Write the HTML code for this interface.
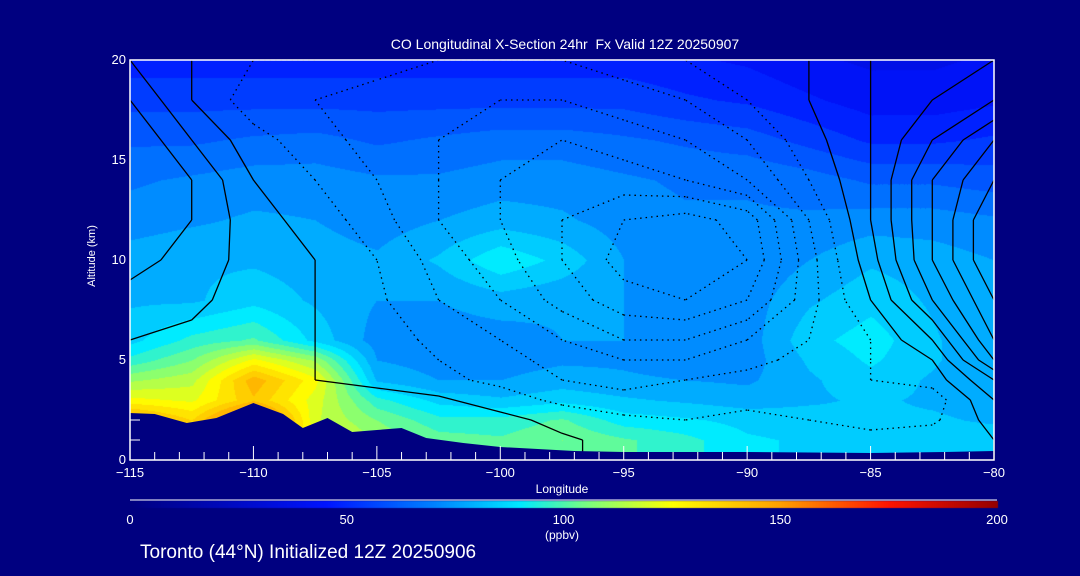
<!DOCTYPE html>
<html><head><meta charset="utf-8">
<style>
html,body{margin:0;padding:0;background:#000080;}
#root{position:relative;width:1080px;height:576px;background:#000080;overflow:hidden;font-family:"Liberation Sans",sans-serif;color:#fff;}
.t{position:absolute;white-space:nowrap;color:#fff;}
canvas,svg{position:absolute;left:0;top:0;}
</style></head>
<body>
<div id="root">
<canvas id="cv" width="1080" height="576"></canvas>
<svg id="sv" width="1080" height="576"></svg>
<div class="t" style="left:0;width:1130px;text-align:center;top:36px;font-size:14px;">CO Longitudinal X-Section 24hr &nbsp;Fx Valid 12Z 20250907</div>
<div class="t" style="left:42px;top:250px;width:100px;text-align:center;font-size:11px;transform:rotate(-90deg);">Altitude (km)</div>
<div class="t" style="left:512px;width:100px;text-align:center;top:482px;font-size:12px;">Longitude</div>
<div class="t" style="left:512px;width:100px;text-align:center;top:528px;font-size:12px;">(ppbv)</div>
<div class="t" style="left:140px;top:542px;font-size:19px;">Toronto (44°N) Initialized 12Z 20250906</div>
</div>
<script>
const lons=[-115,-112.5,-110,-107.5,-105,-102.5,-100,-97.5,-95,-92.5,-90,-87.5,-85,-82.5,-80];
const alts=[0,1,2,3,4,5,6,8,10,12,14,16,18,20];
const co=[
[140,130,150,125,110,100,98,104,100,95,88,86,85,85,85],
[140,130,150,125,110,102,100,105,100,95,88,86,85,85,85],
[150,135,170,118,105,95,95,100,90,88,85,84,82,82,80],
[125,122,140,120,95,85,82,85,82,80,78,80,82,80,78],
[110,115,145,125,80,75,75,78,76,75,74,80,85,80,76],
[95,105,125,110,75,72,72,74,74,72,72,82,88,82,75],
[85,95,100,85,72,72,72,75,75,72,72,85,90,82,75],
[80,80,85,80,75,75,78,76,75,72,72,80,85,80,75],
[78,80,80,78,76,82,92,85,75,70,70,75,80,78,75],
[72,74,76,75,72,75,78,76,72,70,70,70,72,72,70],
[68,70,72,72,70,70,72,72,70,68,68,66,62,62,60],
[62,62,64,65,62,64,66,66,64,62,60,55,50,50,52],
[55,55,55,55,55,55,55,55,55,52,50,46,42,42,44],
[48,48,48,48,48,48,48,48,48,46,44,40,38,38,40]];
const anom=[
[0,0,0,0,2,5,3,1,-2,-3,-3,-4,-4,-2,0],
[0,0,0,0,2,5,3,1,-2,-3,-3,-4,-4,-2,0],
[0,1,1,2,5,4,2,-2,-4,-5,-4,-5,-6,-6,2],
[1,2,1,2,3,1,-3,-6,-8,-8,-6,-6,-8,-8,5],
[2,2,2,0,-2,-4,-6,-10,-12,-10,-8,-6,-5,-3,10],
[3,3,2,0,-2,-5,-8,-12,-15,-15,-12,-8,-5,0,20],
[5,4,3,0,-3,-6,-10,-15,-20,-20,-15,-10,-5,5,25],
[8,6,3,0,-4,-10,-15,-22,-28,-30,-25,-12,0,15,30],
[12,8,3,0,-5,-12,-18,-25,-32,-35,-30,-12,3,20,35],
[15,10,2,-2,-8,-15,-20,-25,-30,-32,-28,-10,5,20,35],
[15,10,0,-5,-10,-15,-20,-22,-22,-20,-15,-5,5,20,30],
[15,5,-3,-8,-12,-15,-18,-20,-18,-15,-10,-2,5,15,25],
[10,0,-8,-10,-12,-12,-15,-15,-12,-10,-5,0,5,10,15],
[5,0,-5,-5,-8,-10,-10,-10,-8,-5,-3,0,5,5,10]];
const terrainLon=[-115,-114,-112.7,-111.5,-110,-108.8,-108,-107,-106,-105,-104,-103,-101.5,-100,-97,-95,-90,-85,-82,-80];
const terrainAlt=[2.35,2.3,1.85,2.1,2.85,2.3,1.6,2.1,1.4,1.5,1.6,1.1,0.85,0.65,0.45,0.4,0.4,0.35,0.4,0.45];
const xTicks=[-115,-110,-105,-100,-95,-90,-85,-80];
const yTicks=[0,5,10,15,20];
const cbTicks=[0,50,100,150,200];

const X0=130,X1=994,Y0=460,Y1=60;
const xs=v=>X0+(v+115)/35*(X1-X0);
const ys=v=>Y0-v/20*(Y0-Y1);
const stops=[[0,0,0,128],[45,0,20,255],[70,0,130,255],[90,0,235,255],[105,120,255,130],[125,255,255,0],[150,255,160,0],[175,255,20,0],[200,150,0,0]];
function cmap(v){v=Math.max(0,Math.min(200,v));for(let i=1;i<stops.length;i++){if(v<=stops[i][0]){const a=stops[i-1],b=stops[i],t=(v-a[0])/(b[0]-a[0]);return[a[1]+t*(b[1]-a[1]),a[2]+t*(b[2]-a[2]),a[3]+t*(b[3]-a[3])];}}return[150,0,0];}
function idx(arr,v){for(let i=0;i<arr.length-1;i++)if(v<=arr[i+1])return i;return arr.length-2;}
function interp(grid,lon,alt){const i=idx(lons,lon),j=idx(alts,alt);const tx=(lon-lons[i])/(lons[i+1]-lons[i]),ty=(alt-alts[j])/(alts[j+1]-alts[j]);return grid[j][i]*(1-tx)*(1-ty)+grid[j][i+1]*tx*(1-ty)+grid[j+1][i]*(1-tx)*ty+grid[j+1][i+1]*tx*ty;}

// heatmap
const cv=document.getElementById('cv'),ctx=cv.getContext('2d');
const img=ctx.createImageData(X1-X0,Y0-Y1);
for(let py=0;py<Y0-Y1;py++)for(let px=0;px<X1-X0;px++){
 const lon=-115+px/(X1-X0)*35,alt=20-py/(Y0-Y1)*20;
 let v=interp(co,lon,alt);v=Math.round(v/6)*6;
 const c=cmap(v),k=(py*(X1-X0)+px)*4;img.data[k]=c[0];img.data[k+1]=c[1];img.data[k+2]=c[2];img.data[k+3]=255;}
ctx.putImageData(img,X0,Y1);
// colorbar
for(let px=0;px<=867;px++){const c=cmap(px/867*200);ctx.fillStyle=`rgb(${c[0]|0},${c[1]|0},${c[2]|0})`;ctx.fillRect(130+px,501,1,7);}

const NS='http://www.w3.org/2000/svg',sv=document.getElementById('sv');
function mk(t,a,p){const e=document.createElementNS(NS,t);for(const k in a)e.setAttribute(k,a[k]);(p||sv).appendChild(e);return e;}
// contours (marching squares)
const cg=mk('g',{fill:'none','stroke-width':1.3});


const levels=[-35,-30,-25,-20,-15,-10,-5,0,5,10,15,20,25,30];
for(const L of levels){let d='';
 for(let j=0;j<alts.length-1;j++)for(let i=0;i<lons.length-1;i++){
  const P=[[lons[i],alts[j],anom[j][i]],[lons[i+1],alts[j],anom[j][i+1]],[lons[i+1],alts[j+1],anom[j+1][i+1]],[lons[i],alts[j+1],anom[j+1][i]]];
  const pts=[];
  for(let e=0;e<4;e++){const a=P[e],b=P[(e+1)%4];if((a[2]<L)!==(b[2]<L)){const t=(L-a[2])/(b[2]-a[2]);pts.push([xs(a[0]+t*(b[0]-a[0])),ys(a[1]+t*(b[1]-a[1]))]);}}
  for(let k=0;k+1<pts.length;k+=2)d+=`M${pts[k][0].toFixed(1)},${pts[k][1].toFixed(1)}L${pts[k+1][0].toFixed(1)},${pts[k+1][1].toFixed(1)}`;}
 if(d){const p=mk('path',{d,stroke:'#000','stroke-dasharray':L<0?'1.5,4':'none'},cg);
 
 }}
// terrain
let td=`M${xs(-115)},${Y0}`;terrainLon.forEach((l,i)=>td+=`L${xs(l).toFixed(1)},${ys(terrainAlt[i]).toFixed(1)}`);td+=`L${xs(-80)},${Y0}Z`;
const ter=mk('path',{d:td,fill:'#000080'});


// frame
const fr=mk('rect',{x:X0,y:Y1,width:X1-X0,height:Y0-Y1,fill:'none',stroke:'#fff','stroke-width':1.5});


for(let l=-115;l<=-80;l++){const major=l%5===0;const tk=mk('line',{x1:xs(l),x2:xs(l),y1:Y0,y2:Y0-(major?14:8),stroke:'#fff'});
 
 }
for(const a of [1,2]){const tk=mk('line',{x1:X0,x2:X0+10,y1:ys(a),y2:ys(a),stroke:'#fff'});
 
 }
const cbl=mk('line',{x1:130,x2:997,y1:500,y2:500,stroke:'#fff'});


const root=document.getElementById('root');
function lab(txt,x,y,name,al){const d=document.createElement('div');d.className='t';d.textContent=txt;d.style.fontSize='13px';
 d.style.top=(y-8)+'px';if(al==='r'){d.style.right=(1080-x)+'px';}else{d.style.left=(x-40)+'px';d.style.width='80px';d.style.textAlign='center';}
 
 
 root.appendChild(d);}
xTicks.forEach(v=>lab(v<0?'\u2212'+(-v):String(v),xs(v),473,'x-tick-label'));
yTicks.forEach(v=>lab(String(v),126,ys(v),'y-tick-label','r'));
cbTicks.forEach(v=>lab(String(v),130+v/200*867,520,'colorbar-tick-label'));
</script>
</body></html>
